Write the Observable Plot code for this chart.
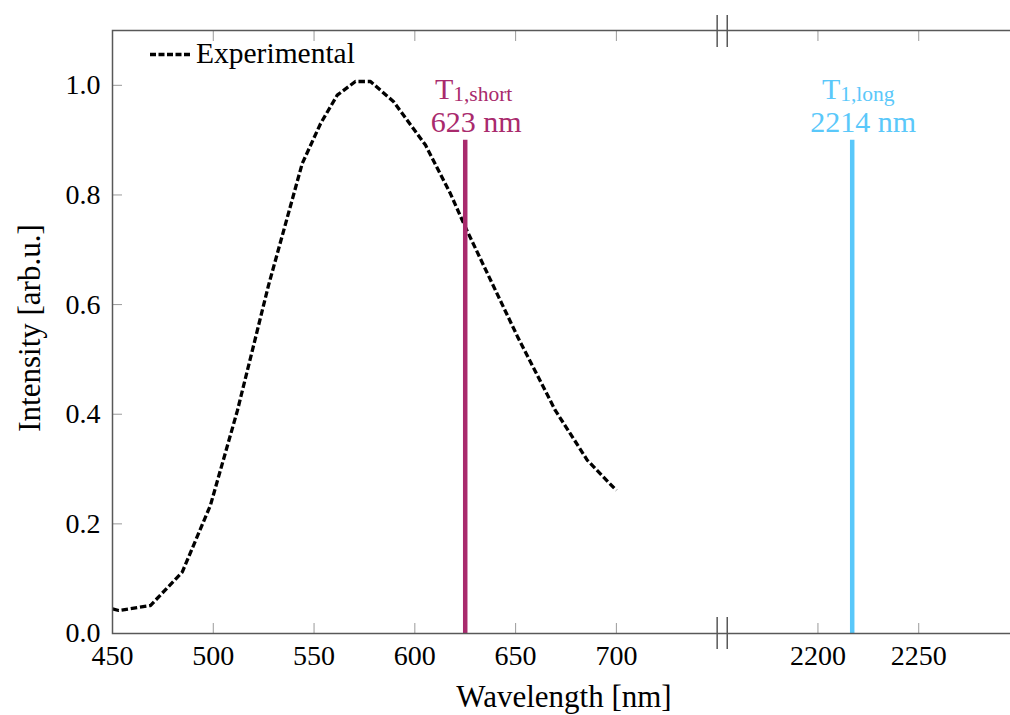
<!DOCTYPE html>
<html>
<head>
<meta charset="utf-8">
<script src="https://cdn.jsdelivr.net/npm/d3@7"></script>
<script src="https://cdn.jsdelivr.net/npm/@observablehq/plot@0.6"></script>
<style>
  body { margin: 0; background: #fff; }
  #wrap { position: relative; width: 1010px; height: 715px; overflow: hidden; }
  #legend { position: absolute; left: 0; top: 0; }
</style>
</head>
<body>
<div id="wrap">
  <div id="chart"></div>
  <svg id="legend" width="400" height="80">
    <line x1="150" y1="54.5" x2="190" y2="54.5" stroke="#000" stroke-width="3.5" stroke-dasharray="6,2.5" stroke-linecap="butt"></line>
    <text x="196" y="63" font-family="'Liberation Serif', serif" font-size="29.5" fill="#000">Experimental</text>
  </svg>
</div>
<script>
// ---- data ----
const wavelength = [450, 453.1, 468.8, 484.6, 498.6, 512.0, 527.4, 544.1, 553.2, 561.5, 570.5, 578.0, 589.5, 605.3, 617.7, 625.1, 650.9, 669.7, 685.6, 700];
const intensity  = [0.045, 0.042, 0.051, 0.112, 0.234, 0.407, 0.635, 0.857, 0.930, 0.982, 1.007, 1.007, 0.970, 0.891, 0.802, 0.741, 0.542, 0.407, 0.316, 0.261];

const lineNames     = ["short", "long"];
const linePositions = [625, 2217];          // where the bars are drawn (nm)
const lineLabels    = ["623 nm", "2214 nm"];
const lineColors    = ["#A92A6D", "#5AC8FA"];
const lineTop       = 0.9;

const xTickValues = [450, 500, 550, 600, 650, 700, 2200, 2250];
const yTickValues = [0, 0.2, 0.4, 0.6, 0.8, 1.0];
const breakMarks  = [750, 755];   // axis-break marks (display units)
const breakShift  = 1400;         // nm removed by the axis break
const xDomain     = [450, 900];   // display units (450–750 | 2150–2300 nm)
const yDomain     = [0, 1.1];

// ---- build ----
const disp = v => (v > 750 ? v - breakShift : v);
const fmtX = d => String(d > 750 ? d + breakShift : d);
const curve = wavelength.map((w, i) => ({x: w, y: intensity[i]}));
const ann = linePositions.map((p, i) => ({
  x: disp(p), y: lineTop, sub: "1," + lineNames[i], label: lineLabels[i], color: lineColors[i]
}));
const xt = xTickValues.map(disp);
const axisStroke = "#585858";
const tickStroke = "#9a9a9a";
const blank = () => "";

const chart = Plot.plot({
  width: 1019, height: 715,
  marginLeft: 112, marginRight: 0, marginTop: 30, marginBottom: 82,
  style: {fontFamily: "'Liberation Serif', serif", fontSize: "28px", color: "#000", background: "#fff", maxWidth: "none", overflow: "visible"},
  x: {domain: xDomain},
  y: {domain: yDomain},
  marks: [
    // tick marks (inward) on all sides
    Plot.axisX({ticks: xt, anchor: "bottom", tickSize: 10, dy: -10, tickFormat: blank, stroke: tickStroke, label: null}),
    Plot.axisX({ticks: xt, anchor: "top", tickSize: 10, dy: 10, tickFormat: blank, stroke: tickStroke, label: null}),
    Plot.axisY({ticks: yTickValues, anchor: "left", tickSize: 10, dx: 10, tickFormat: blank, stroke: tickStroke, label: null}),
    Plot.axisY({ticks: yTickValues, anchor: "right", tickSize: 10, dx: -10, tickFormat: blank, stroke: tickStroke, label: null}),
    // tick labels
    Plot.axisX({ticks: xt, anchor: "bottom", tickSize: 0, tickPadding: 12, tickFormat: fmtX, label: null}),
    Plot.axisY({ticks: yTickValues, anchor: "left", tickSize: 0, tickPadding: 12, tickFormat: ".1f", label: null}),
    // axis titles
    Plot.text(["Wavelength [nm]"], {text: d => d, frameAnchor: "bottom", textAnchor: "middle", lineAnchor: "bottom", dy: 73, dx: -2, fill: "#000", fontSize: 31}),
    Plot.text(["Intensity [arb.u.]"], {text: d => d, frameAnchor: "left", textAnchor: "middle", lineAnchor: "middle", rotate: -90, dx: -82, dy: -4, fill: "#000", fontSize: 31}),
    // experimental curve
    Plot.line(curve, {x: "x", y: "y", stroke: "#000", strokeWidth: 3.3, strokeDasharray: "6.5,2.8", strokeLinecap: "butt", strokeLinejoin: "miter"}),
    // transition bars
    Plot.ruleX(ann, {x: "x", y1: 0, y2: "y", stroke: "color", strokeWidth: 4.5}),
    Plot.text(ann, {x: "x", y: "y", text: "label", fill: "color", lineAnchor: "bottom", dy: -8, dx: 11, fontSize: 30}),
    Plot.text(ann, {x: "x", y: "y", text: () => "T", fill: "color", textAnchor: "end", lineAnchor: "bottom", dy: -41.5, dx: -12, fontSize: 30}),
    Plot.text(ann, {x: "x", y: "y", text: "sub", fill: "color", textAnchor: "start", lineAnchor: "bottom", dy: -39, dx: -12, fontSize: 21.5}),
    // frame and axis-break marks
    Plot.frame({stroke: axisStroke, strokeWidth: 1.5}),
    Plot.axisX({ticks: breakMarks, anchor: "bottom", tickSize: 32, dy: -16, tickFormat: blank, stroke: axisStroke, strokeWidth: 1.5, label: null}),
    Plot.axisX({ticks: breakMarks, anchor: "top", tickSize: 32, dy: 16, tickFormat: blank, stroke: axisStroke, strokeWidth: 1.5, label: null})
  ]
});
document.getElementById("chart").appendChild(chart);
</script>
</body>
</html>
